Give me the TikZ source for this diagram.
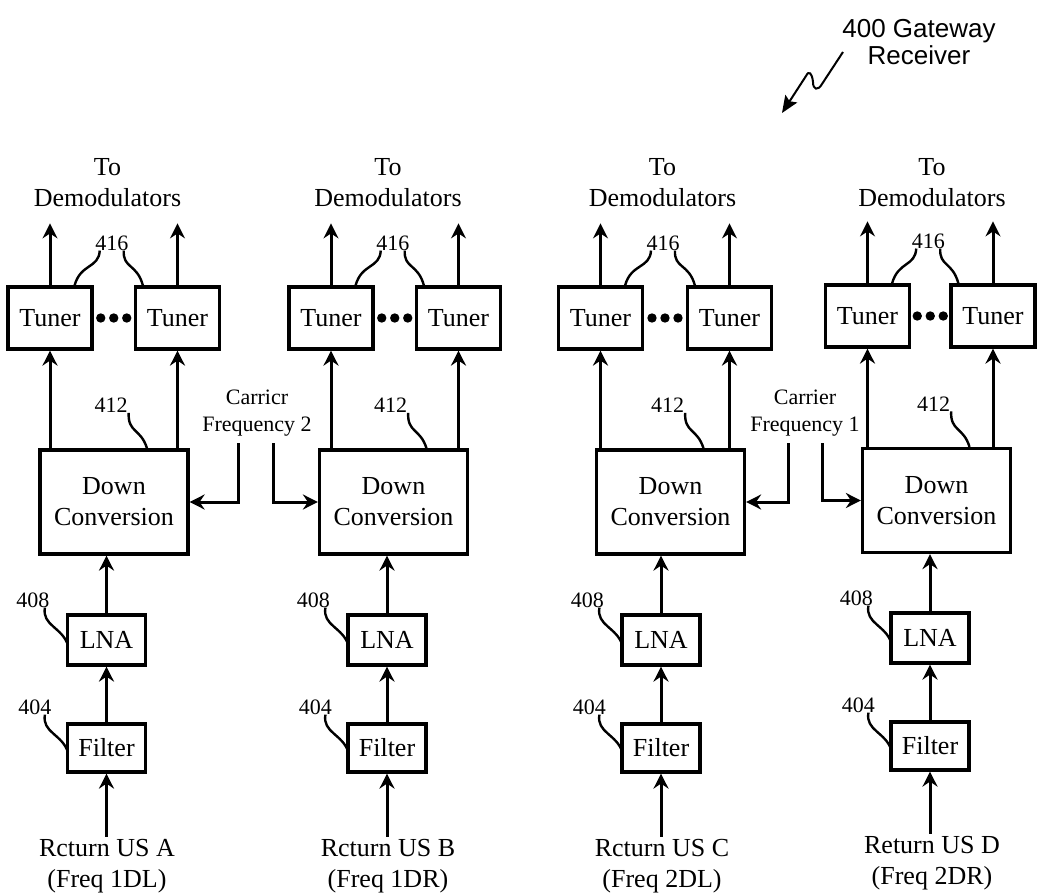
\documentclass[tikz,border=0pt]{standalone}
\usepackage{fontspec}
\setmainfont{Liberation Serif}
\newfontfamily\arialfont{Liberation Sans}
\usetikzlibrary{arrows.meta,calc}
\newcommand\rxcol[9]{%
  \node[tuner] (#1t1) at (#2,#4) {Tuner};
  \node[tuner] (#1t2) at (#3,#4) {Tuner};
  \node[dcbox] (#1dc) at (#5,#6) {Down\\Conversion};
  \node[lnabox] (#1lna) at (#7,{640+#8}) {LNA};
  \node[filtbox] (#1f) at (#7,{748+#8}) {Filter};
  \node[lbl] (#1to) at (#9,183) {To\\Demodulators};
  \draw[flow] (#1t1.north) -- ++(0,-62);
  \draw[flow] (#1t2.north) -- ++(0,-62);
  \draw[flow] (#1t1.south |- #1dc.north) -- (#1t1.south);
  \draw[flow] (#1t2.south |- #1dc.north) -- (#1t2.south);
  \draw[flow] (#1lna.north) -- (#1lna.north |- #1dc.south);
  \draw[flow] (#1f.north) -- (#1lna.south);
  \coordinate (#1g) at ($(#1t1.east)!0.5!(#1t2.west)$);
  \fill ($(#1g)+(-13,0)$) circle[radius=4.7pt];
  \fill (#1g) circle[radius=4.7pt];
  \fill ($(#1g)+(13,0)$) circle[radius=4.7pt];
  \node[num] (#1n416) at ($(#1g)+(-2,-75)$) {416};
  \draw[lead] ($(#1n416.south)+(-12,0)$) .. controls +(-1,18) and +(6,-22) .. ($(#1t1.north east)+(-19,0)$);
  \draw[lead] ($(#1n416.south)+(12,0)$) .. controls +(-1,18) and +(-6,-22) .. ($(#1t2.north west)+(9,0)$);
  \node[num] (#1n412) at ($(#1dc.north)+(-3,-43)$) {412};
  \draw[lead] ($(#1n412.south east)+(1,0)$) .. controls +(-1,20) and +(-6,-20) .. ($(#1dc.north)+(33,0)$);
  \node[num] (#1n408) at ($(#1lna.west)+(-33,-40)$) {408};
  \draw[lead] ($(#1n408.south)+(12,0)$) .. controls +(-3,18) and +(-6,-18) .. ($(#1lna.west)+(2,5)$);
  \node[num] (#1n404) at ($(#1f.west)+(-31,-41)$) {404};
  \draw[lead] ($(#1n404.south)+(10,0)$) .. controls +(-3,18) and +(-6,-18) .. ($(#1f.west)+(2,4)$);
}
\begin{document}
\begin{tikzpicture}[x=1pt,y=-1pt,
  box/.style={draw,line width=3.2pt,inner sep=0pt,font=\fontsize{26}{31}\selectfont},
  tuner/.style={box,minimum width=84pt,minimum height=62pt},
  dcbox/.style={box,minimum width=148pt,minimum height=104pt,align=center},
  lnabox/.style={box,minimum width=78pt,minimum height=50pt},
  filtbox/.style={box,minimum width=78pt,minimum height=48pt},
  lbl/.style={font=\fontsize{26}{31}\selectfont,align=center,inner sep=2pt},
  num/.style={font=\fontsize{22}{26}\selectfont,inner sep=0pt},
  small/.style={font=\fontsize{22}{27}\selectfont,align=center,inner sep=0pt},
  flow/.style={line width=3pt,-{Stealth[length=15pt,width=15pt,inset=5pt]}},
  lead/.style={line width=2.4pt},
]
\useasboundingbox (0,0) rectangle (1037,896);

\rxcol{A}{50}{177.5}{318}{114}{502}{106.5}{0}{107.5}
\rxcol{B}{331}{458.5}{318}{393.5}{502}{387}{0}{388}
\rxcol{C}{600.5}{729.5}{318}{670.5}{502}{661}{0}{662.5}
\rxcol{D}{867.5}{993}{316}{936.5}{500.5}{930}{-2}{932}

\node[lbl] (inA) at (107,866) {Rcturn US A\\(Freq 1DL)};
\node[lbl] (inB) at (388,866) {Rcturn US B\\(Freq 1DR)};
\node[lbl] (inC) at (662,866) {Rcturn US C\\(Freq 2DL)};
\node[lbl] (inD) at (932,863) {Return US D\\(Freq 2DR)};
\draw[flow] (Af.south |- inA.north) -- (Af.south);
\draw[flow] (Bf.south |- inB.north) -- (Bf.south);
\draw[flow] (Cf.south |- inC.north) -- (Cf.south);
\draw[flow] (Df.south |- inD.north) -- (Df.south);

\node[small] (cf2) at (257,413) {Carricr\\Frequency 2};
\coordinate (cf2a) at (238,443);
\coordinate (cf2b) at (273,443);
\draw[flow] (cf2a) |- (Adc.east);
\draw[flow] (cf2b) |- (Bdc.west);

\node[small] (cf1) at (805,413) {Carrier\\Frequency 1};
\coordinate (cf1a) at (788,443);
\coordinate (cf1b) at (822,443);
\draw[flow] (cf1a) |- (Cdc.east);
\draw[flow] (cf1b) |- (Ddc.west);

\node[font=\arialfont\fontsize{26}{27}\selectfont,align=center,inner sep=0pt] (gw) at (919,42) {400 Gateway\\Receiver};
\coordinate (gws) at (843,52);
\coordinate (gwe) at (782,113);
\draw[line width=2pt,-{Stealth[length=17pt,width=14pt,inset=3pt]}] (gws) -- (822,84) .. controls (818,91) and (813,90) .. (813,82) .. controls (812,73) and (809,70) .. (806,76) -- (gwe);
\end{tikzpicture}
\end{document}
